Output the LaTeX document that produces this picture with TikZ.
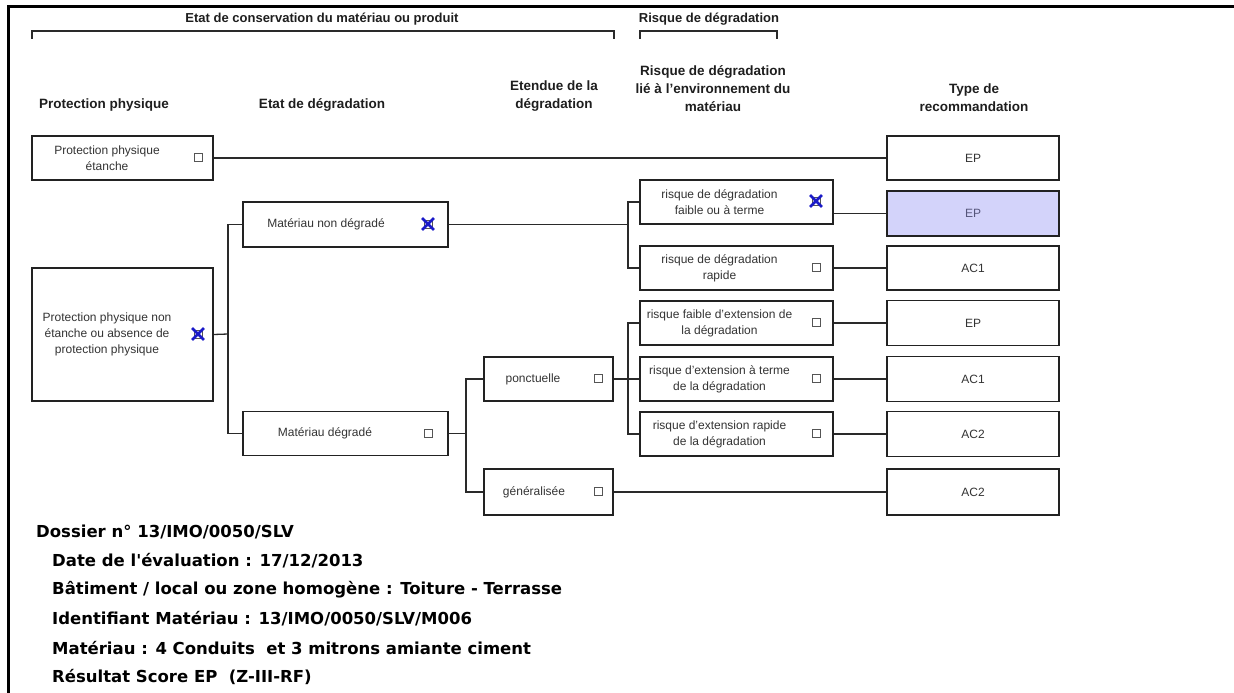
\documentclass[tikz,border=0pt]{standalone}
\usepackage{fontspec}
\setmainfont{Liberation Sans}
\newfontfamily\verd{DejaVu Sans}
\newcommand\ap{\char"27\relax}
\definecolor{linecol}{HTML}{2A2A2A}
\definecolor{boxcol}{HTML}{222222}
\definecolor{txtcol}{HTML}{333333}
\definecolor{headcol}{HTML}{1E1E1E}
\definecolor{chkcol}{HTML}{555555}
\definecolor{xblue}{HTML}{1A1AC8}
\definecolor{hifill}{HTML}{D3D3FA}
\definecolor{hitxt}{HTML}{55557A}
\tikzset{
  box/.style={draw=boxcol, line width=1.6pt, rectangle, inner sep=0pt},
  txt/.style={font=\fontsize{12}{16}\selectfont, text=txtcol, align=center, inner sep=0pt},
  chk/.style={draw=chkcol, line width=0.9pt, minimum size=8pt, inner sep=0pt, fill=white},
  xmark/.style={draw=xblue, line width=2.8pt},
  conn/.style={draw=linecol, line width=1.3pt},
  head/.style={font=\bfseries\fontsize{13.5}{18}\selectfont, align=center, text=headcol, inner sep=0pt, anchor=south},
  tophead/.style={font=\bfseries\fontsize{13}{15}\selectfont, text=headcol, inner sep=0pt},
  info/.style={font=\verd\bfseries\fontsize{16.5}{18}\selectfont, anchor=west, inner sep=0pt, text=black},
  frame/.style={draw=black, line width=3pt},
  brk/.style={draw=linecol, line width=1.3pt}
}
\begin{document}
\begin{tikzpicture}[x=1pt,y=-1pt]
\useasboundingbox (0,0) rectangle (1234,693);
% frame
\coordinate (fl) at (8,693);
\coordinate (fc) at (8,7);
\coordinate (fr) at (1234,7);
\draw[frame] (fl) -- (fc) -- (fr);
% top headers
\node[tophead] (h1) at (322,19) {Etat de conservation du matériau ou produit};
\node[tophead] (h2) at (709,19) {Risque de dégradation};
\coordinate (b1a) at (32,39); \coordinate (b1b) at (32,31); \coordinate (b1c) at (614,31); \coordinate (b1d) at (614,39);
\draw[brk] (b1a) -- (b1b) -- (b1c) -- (b1d);
\coordinate (b2a) at (640,39); \coordinate (b2b) at (640,31); \coordinate (b2c) at (777,31); \coordinate (b2d) at (777,39);
\draw[brk] (b2a) -- (b2b) -- (b2c) -- (b2d);
% column headings
\node[head] (c1) at (104,112) {Protection physique};
\node[head] (c2) at (322,112) {Etat de dégradation};
\node[head] (c3) at (554,112) {Etendue de la\\dégradation};
\node[head] (c4) at (713,112) {Risque de dégradation\\lié à l\ap environnement du\\matériau};
\node[head] (c5) at (974,112) {Type de\\recommandation};
% boxes column 1
\node[box, minimum width=181pt, minimum height=44pt] (pe) at (122.5,158) {};
\node[txt] (pet) at (107,158) {Protection physique\\étanche};
\node[chk] (pek) at (198,157) {};
\node[box, minimum width=181pt, minimum height=133pt] (pn) at (122.5,334.5) {};
\node[txt] (pnt) at (107,334) {Protection physique non\\étanche ou absence de\\protection physique};
\node[chk] (pnk) at (198,334) {};
\draw[xmark] ([shift={(-1.5,-1.5)}]pnk.north west) -- ([shift={(1.5,1.5)}]pnk.south east);
\draw[xmark] ([shift={(1.5,-1.5)}]pnk.north east) -- ([shift={(-1.5,1.5)}]pnk.south west);
% column 2
\node[box, minimum width=205pt, minimum height=45pt] (mnd) at (345.5,224.5) {};
\node[txt] (mndt) at (326,224.5) {Matériau non dégradé};
\node[chk] (mndk) at (428,224) {};
\draw[xmark] ([shift={(-1.5,-1.5)}]mndk.north west) -- ([shift={(1.5,1.5)}]mndk.south east);
\draw[xmark] ([shift={(1.5,-1.5)}]mndk.north east) -- ([shift={(-1.5,1.5)}]mndk.south west);
\node[box, minimum width=205pt, minimum height=44pt] (md) at (345.5,433.5) {};
\node[txt] (mdt) at (325,433.5) {Matériau dégradé};
\node[chk] (mdk) at (428,433) {};
% column 3
\node[box, minimum width=129pt, minimum height=44pt] (pon) at (548.5,379) {};
\node[txt] (pont) at (533,379) {ponctuelle};
\node[chk] (ponk) at (598,378) {};
\node[box, minimum width=129pt, minimum height=46pt] (gen) at (548.5,492) {};
\node[txt] (gent) at (534,492) {généralisée};
\node[chk] (genk) at (598,491) {};
% column 4
\node[box, minimum width=193pt, minimum height=44pt] (r1) at (736.5,202) {};
\node[txt] (r1t) at (719.5,202) {risque de dégradation\\faible ou à terme};
\node[chk] (r1k) at (816,201) {};
\draw[xmark] ([shift={(-1.5,-1.5)}]r1k.north west) -- ([shift={(1.5,1.5)}]r1k.south east);
\draw[xmark] ([shift={(1.5,-1.5)}]r1k.north east) -- ([shift={(-1.5,1.5)}]r1k.south west);
\node[box, minimum width=193pt, minimum height=44pt] (r2) at (736.5,268) {};
\node[txt] (r2t) at (719.5,268) {risque de dégradation\\rapide};
\node[chk] (r2k) at (816,267) {};
\node[box, minimum width=193pt, minimum height=44pt] (r3) at (736.5,323) {};
\node[txt] (r3t) at (719.5,323) {risque faible d\ap extension de\\la dégradation};
\node[chk] (r3k) at (816,322) {};
\node[box, minimum width=193pt, minimum height=44pt] (r4) at (736.5,379) {};
\node[txt] (r4t) at (719.5,379) {risque d\ap extension à terme\\de la dégradation};
\node[chk] (r4k) at (816,378) {};
\node[box, minimum width=193pt, minimum height=44pt] (r5) at (736.5,434) {};
\node[txt] (r5t) at (719.5,434) {risque d\ap extension rapide\\de la dégradation};
\node[chk] (r5k) at (816,433) {};
% column 5
\node[box, minimum width=172pt, minimum height=44pt] (e1) at (973,158) {};
\node[txt] (e1t) at (973,158) {EP};
\node[box, minimum width=172pt, minimum height=45pt, fill=hifill] (e2) at (973,213.5) {};
\node[txt, text=hitxt] (e2t) at (973,213.5) {EP};
\node[box, minimum width=172pt, minimum height=44pt] (e3) at (973,268) {};
\node[txt] (e3t) at (973,268) {AC1};
\node[box, minimum width=172pt, minimum height=45pt] (e4) at (973,323) {};
\node[txt] (e4t) at (973,323) {EP};
\node[box, minimum width=172pt, minimum height=45pt] (e5) at (973,379) {};
\node[txt] (e5t) at (973,379) {AC1};
\node[box, minimum width=172pt, minimum height=45pt] (e6) at (973,434) {};
\node[txt] (e6t) at (973,434) {AC2};
\node[box, minimum width=172pt, minimum height=46pt] (e7) at (973,492) {};
\node[txt] (e7t) at (973,492) {AC2};
% connectors
\draw[conn] (pe.east) -- (e1.west);
\coordinate (j1) at (228,334);
\draw[conn] (pn.east) -- (j1);
\draw[conn] (mnd.west) -| (j1) |- (md.west);
\coordinate (j2) at (628,224.5);
\draw[conn] (mnd.east) -- (j2);
\draw[conn] (r1.west) -| (j2) |- (r2.west);
\coordinate (j3) at (466,433.5);
\draw[conn] (md.east) -- (j3);
\draw[conn] (pon.west) -| (j3) |- (gen.west);
\coordinate (j4) at (628,379);
\draw[conn] (pon.east) -- (j4);
\draw[conn] (r3.west) -| (j4) |- (r5.west);
\draw[conn] (j4) -- (r4.west);
\draw[conn] (e2.west -| r1.east) -- (e2.west);
\draw[conn] (r2.east) -- (e3.west);
\draw[conn] (r3.east) -- (e4.west);
\draw[conn] (r4.east) -- (e5.west);
\draw[conn] (r5.east) -- (e6.west);
\draw[conn] (gen.east) -- (e7.west);
% info
\node[info] (i1) at (36,532) {Dossier n° 13/IMO/0050/SLV};
\node[info] (i2) at (52,561) {Date de l\ap évaluation : 17/12/2013};
\node[info] (i3) at (52,590) {Bâtiment / local ou zone homogène : Toiture - Terrasse};
\node[info] (i4) at (52,619) {Identifiant Matériau : 13/IMO/0050/SLV/M006};
\node[info] (i5) at (52,648) {Matériau : 4 Conduits\ \ et 3 mitrons amiante ciment};
\node[info] (i6) at (52,677) {Résultat Score EP\ \ (Z-III-RF)};
\end{tikzpicture}
\end{document}
